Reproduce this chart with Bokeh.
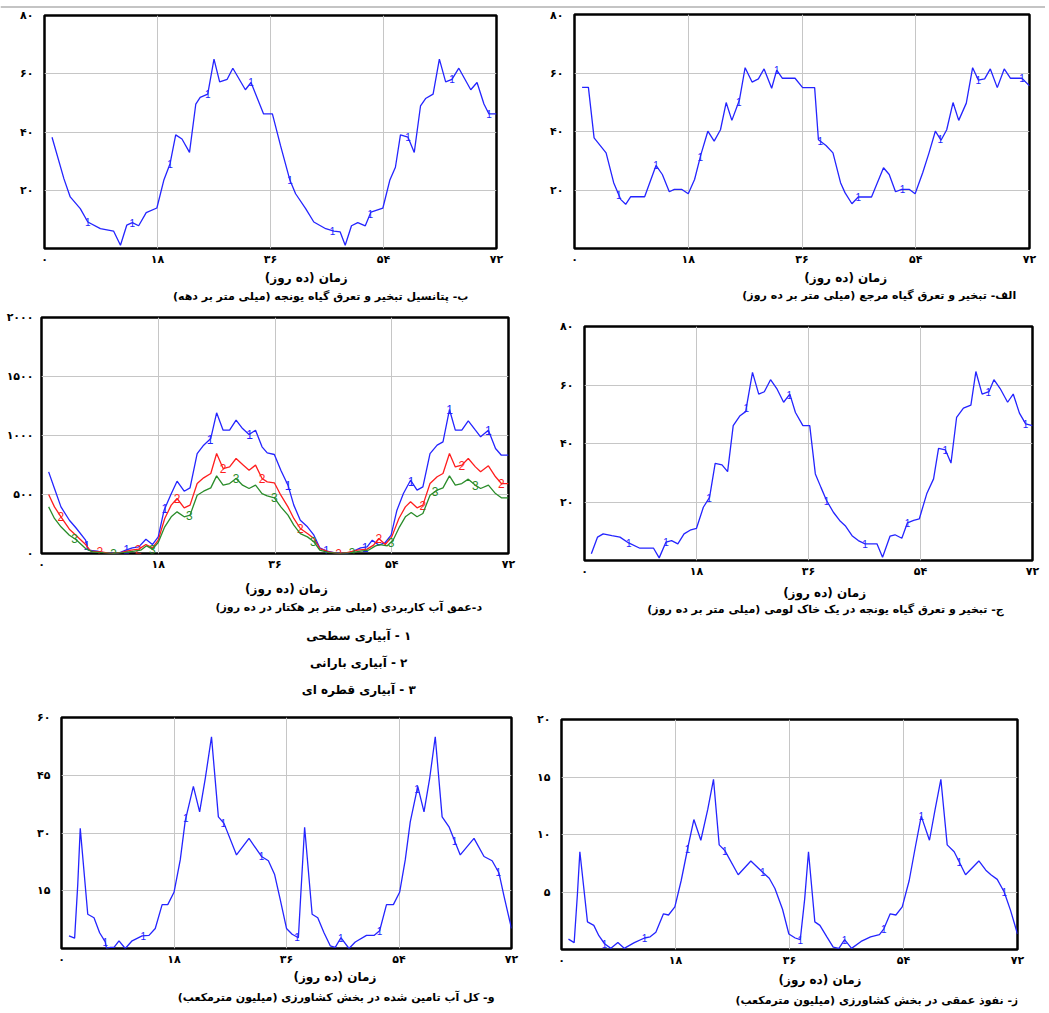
import numpy as np
from bokeh.plotting import figure
from bokeh.models import Range1d, FixedTicker
from bokeh.layouts import column, row
from bokeh.embed import file_html
from bokeh.resources import INLINE
from bokeh.core.properties import value

# ---------------- data ----------------
x_ticks = [0, 18, 36, 54, 72]
x_tick_labels = ["۰", "۱۸", "۳۶", "۵۴", "۷۲"]
axis_title = "زمان (ده روز)"

# الف - reference ET
t_a = [1.2, 2.2, 3.1, 5.0, 6.2, 7.3, 8.1, 8.9, 11.1, 12.9, 13.9, 15.0, 15.8, 17.0, 18.0, 19.0, 20.0, 21.1,
       22.1, 23.1, 24.0, 24.9, 26.1, 27.0, 28.1, 29.1, 30.0, 31.2, 32.0, 32.9, 34.9, 36.1, 38.0, 38.6, 39.8,
       40.9, 42.1, 42.8, 43.9, 44.9, 47.0, 48.9, 49.8, 50.8, 51.8, 53.0, 53.9, 55.1, 56.1, 57.1, 58.0, 58.9,
       59.9, 60.8, 62.0, 63.0, 63.9, 64.9, 65.8, 66.9, 68.0, 69.0, 70.8, 72.0]
et0_a = [55.1, 55.1, 37.8, 32.7, 22.5, 16.8, 15.1, 17.7, 17.7, 28.4, 25.3, 19.4, 20.2, 20.2, 18.7, 23.6, 32.1,
         40.1, 36.7, 40.6, 49.9, 43.8, 50.8, 61.8, 56.9, 58.0, 61.4, 54.8, 61.0, 58.2, 58.2, 55.0, 55.0, 37.2,
         35.2, 32.7, 22.5, 19.1, 15.3, 17.6, 17.6, 27.6, 25.3, 19.4, 20.2, 20.2, 18.7, 25.9, 32.7, 40.1, 37.0,
         40.6, 49.9, 43.8, 49.7, 61.8, 57.6, 58.0, 61.4, 55.0, 61.4, 58.2, 58.2, 55.6]
marks_a = [7.0, 12.9, 19.9, 26.0, 32.0, 38.9, 44.9, 51.9, 57.9, 63.9, 70.8]

# ب - potential ET of alfalfa
t_b = [1.2, 3.1, 4.1, 5.7, 6.9, 8.9, 11.0, 12.1, 13.1, 14.0, 15.0, 16.2, 17.9, 19.0, 20.0, 20.9, 21.9, 23.1,
       24.1, 24.8, 26.0, 27.0, 27.9, 29.1, 30.0, 32.0, 32.9, 34.9, 36.3, 37.6, 39.1, 40.0, 41.6, 42.9, 44.8,
       46.1, 47.1, 47.9, 48.9, 49.9, 51.1, 52.0, 53.9, 55.0, 55.9, 56.7, 57.9, 58.9, 59.9, 60.7, 61.9, 62.9,
       63.9, 64.9, 66.0, 67.9, 68.9, 70.0, 70.8, 72.0]
etp_b = [38.2, 23.9, 17.7, 13.7, 9.1, 6.8, 6.0, 1.1, 8.0, 8.9, 7.8, 12.3, 13.9, 23.4, 29.1, 39.0, 37.6, 33.0,
         49.6, 51.9, 53.0, 65.0, 57.2, 58.1, 61.9, 54.5, 57.0, 46.2, 46.2, 35.3, 23.4, 18.8, 13.7, 9.1, 6.8,
         6.0, 5.7, 1.1, 7.8, 8.9, 7.8, 12.5, 13.9, 23.4, 27.9, 39.0, 38.2, 33.0, 49.0, 51.5, 53.0, 65.0, 57.2,
         58.1, 61.9, 54.5, 57.0, 49.6, 46.2, 46.2]
marks_b = [6.9, 14.0, 20.0, 26.0, 32.9, 39.1, 45.9, 51.9, 57.9, 64.9, 70.8]

# ج - ET of alfalfa on a loam soil
t_c = [1.1, 2.1, 3.0, 4.4, 5.7, 7.1, 8.9, 11.1, 12.0, 13.1, 14.0, 15.0, 16.0, 17.1, 18.0, 19.1, 20.1, 21.0,
       22.1, 23.0, 23.9, 25.0, 25.9, 27.0, 28.0, 28.9, 29.9, 30.9, 32.0, 33.0, 33.9, 35.1, 36.2, 37.1, 38.0,
       38.9, 40.0, 41.0, 41.9, 43.0, 44.0, 45.1, 47.0, 47.9, 49.1, 49.9, 51.0, 51.9, 52.9, 53.8, 55.0, 56.1,
       56.9, 58.0, 58.9, 59.8, 60.9, 62.1, 62.9, 63.9, 65.0, 65.8, 66.8, 68.0, 68.9, 69.9, 70.9, 72.0]
eta_c = [2.3, 8.0, 9.1, 8.5, 8.0, 6.0, 4.2, 4.2, 0.9, 6.3, 6.8, 5.7, 9.1, 10.5, 11.0, 18.2, 21.6, 33.2,
         32.7, 30.4, 46.1, 49.5, 50.9, 64.3, 56.9, 57.7, 61.8, 58.8, 54.1, 56.9, 50.6, 46.1, 46.1, 29.6, 25.0,
         20.5, 16.5, 13.7, 11.9, 8.5, 6.8, 5.7, 5.7, 1.1, 8.3, 8.8, 7.6, 12.9, 13.7, 14.2, 22.8, 27.9,
         38.3, 37.8, 33.3, 48.9, 52.1, 53.1, 64.6, 56.9, 57.7, 61.8, 58.8, 54.1, 56.9, 50.4, 46.7, 46.1]
marks_c = [7.1, 13.1, 20.0, 26.0, 32.9, 38.9, 45.1, 51.9, 58.0, 64.9, 70.9]

# د - applied water depth, three irrigation methods
t_d1 = [1.1, 2.0, 3.0, 4.3, 5.3, 6.8, 7.2, 8.6, 9.6, 10.7, 11.7, 13.0, 14.0, 15.0, 16.1, 17.1, 18.0, 18.9,
        19.9, 20.9, 22.0, 22.9, 24.0, 25.0, 26.1, 27.0, 28.0, 29.0, 30.0, 31.0, 32.0, 33.0, 34.0, 34.8, 35.9,
        36.9, 38.0, 38.9, 39.9, 41.0, 42.0, 42.9, 44.0, 45.1, 46.1, 47.1, 48.1, 49.2, 50.2, 51.0, 52.0, 53.0,
        53.9, 54.8, 55.8, 56.9, 57.9, 58.8, 59.9, 61.0, 61.9, 62.9, 63.8, 64.8, 65.8, 66.9, 67.7, 68.9, 70.0,
        70.9, 72.0]
d1 = [692, 551, 395, 282, 218, 113, 28, 20, 8, 8, 0, 28, 48, 56, 121, 76, 141, 367, 494, 613, 528, 556, 847,
      918, 975, 1192, 1045, 1045, 1130, 1059, 1008, 1045, 904, 853, 839, 706, 579, 410, 282, 226, 155, 48, 20,
      8, 8, 0, 20, 48, 56, 113, 71, 93, 155, 367, 508, 621, 537, 565, 847, 918, 946, 1220, 1045, 1045, 1124,
      1045, 989, 1045, 890, 833, 833]
t_d2 = [1.1, 2.0, 3.0, 4.3, 5.3, 6.8, 7.6, 9.1, 10.7, 12.2, 13.8, 15.0, 16.1, 17.1, 18.0, 19.0, 20.0, 20.9,
        22.0, 22.9, 24.0, 25.0, 26.1, 27.0, 28.0, 29.0, 30.0, 31.0, 32.0, 33.0, 34.0, 34.8, 35.9, 36.9, 38.0,
        38.9, 39.9, 41.0, 42.0, 42.9, 44.3, 45.6, 47.1, 48.7, 50.2, 51.2, 52.0, 53.0, 54.0, 55.1, 56.1, 56.9,
        57.9, 58.8, 59.9, 61.0, 61.9, 62.9, 63.8, 64.8, 65.8, 66.9, 67.7, 68.9, 70.0, 70.9, 72.0]
d2 = [500, 395, 311, 206, 155, 76, 20, 14, 0, 8, 28, 37, 76, 48, 113, 297, 410, 466, 387, 410, 593, 641, 678,
      847, 720, 734, 805, 754, 706, 749, 636, 607, 599, 494, 395, 297, 212, 169, 127, 42, 14, 0, 8, 28, 37,
      71, 127, 76, 141, 297, 395, 438, 387, 410, 593, 650, 678, 847, 734, 749, 805, 734, 692, 743, 650, 593,
      593]
t_d3 = [1.1, 2.0, 3.0, 4.3, 5.3, 6.8, 7.9, 9.6, 11.2, 12.7, 14.3, 15.3, 16.2, 17.1, 18.0, 19.0, 20.0, 20.9,
        22.0, 22.9, 24.0, 25.0, 26.1, 27.0, 28.0, 29.0, 30.0, 31.0, 32.0, 33.0, 34.0, 34.8, 35.9, 36.9, 38.0,
        38.9, 39.9, 41.0, 42.0, 42.9, 44.3, 46.1, 47.6, 49.2, 50.4, 51.5, 52.2, 53.3, 54.2, 55.2, 56.1, 57.0,
        57.9, 58.8, 59.9, 61.0, 61.9, 62.9, 63.8, 64.8, 65.8, 66.9, 67.7, 68.9, 70.0, 70.9, 72.0]
d3 = [395, 297, 226, 155, 119, 42, 14, 6, 0, 8, 20, 28, 65, 37, 93, 226, 311, 353, 311, 325, 494, 528, 556,
      658, 579, 593, 636, 579, 551, 579, 508, 489, 472, 395, 325, 240, 169, 141, 99, 28, 8, 0, 6, 20, 28, 65,
      76, 65, 113, 226, 311, 347, 311, 339, 494, 537, 556, 658, 579, 593, 630, 579, 551, 579, 508, 472, 472]
marks_d1 = [7.0, 13.1, 19.0, 26.0, 32.1, 38.0, 43.9, 49.9, 57.0, 62.9, 68.9]
marks_d2 = [3.0, 9.0, 14.9, 20.9, 28.0, 34.0, 39.9, 45.8, 52.0, 58.8, 64.8, 70.9]
marks_d3 = [5.1, 11.1, 17.1, 22.8, 30.0, 35.9, 41.9, 47.9, 53.9, 60.7, 66.9]
legend_items = ["۱ - آبیاری سطحی", "۲ - آبیاری بارانی", "۳ - آبیاری قطره ای"]

# و - total water supplied to agriculture
t_e = [1.2, 2.1, 2.6, 3.0, 4.2, 5.2, 6.1, 7.0, 7.2, 7.8, 8.4, 9.2, 10.2, 11.3, 12.9, 14.0, 15.0, 16.1, 17.0,
       18.0, 19.0, 19.8, 21.1, 22.1, 23.0, 24.0, 25.1, 26.0, 28.0, 30.0, 32.0, 33.1, 34.1, 35.0, 36.0, 36.9,
       37.9, 38.3, 38.9, 40.1, 41.0, 42.0, 43.0, 43.8, 44.7, 46.0, 47.0, 48.8, 50.0, 50.9, 52.0, 53.1, 54.1,
       55.0, 55.8, 57.0, 58.0, 58.9, 59.8, 60.9, 62.0, 63.8, 66.0, 67.6, 68.9, 70.0, 70.8, 72.0]
supply_e = [3.3, 2.7, 16.6, 31.2, 8.9, 8.0, 4.1, 1.7, 0.0, 0.3, 0.3, 2.0, 0.0, 2.0, 3.3, 3.4, 5.2, 11.4, 11.4,
            14.6, 23.0, 33.2, 42.1, 35.5, 44.1, 55.0, 34.2, 32.5, 24.3, 28.6, 23.9, 22.8, 19.2, 12.7, 5.2, 3.7,
            2.8, 14.4, 31.5, 8.9, 8.0, 4.1, 0.7, 0.3, 2.8, 0.0, 1.7, 3.4, 3.4, 4.6, 11.4, 11.4, 14.6, 23.0,
            32.9, 42.1, 35.5, 44.1, 55.0, 34.2, 31.6, 24.3, 28.6, 23.9, 22.8, 19.6, 13.6, 5.2]
marks_e = [7.0, 13.1, 19.9, 25.9, 32.0, 37.7, 44.7, 50.9, 56.9, 62.9, 69.9]

# ز - deep percolation in agriculture
t_f = [1.1, 2.0, 2.5, 2.9, 4.1, 5.1, 5.9, 6.8, 7.8, 8.9, 9.9, 11.5, 13.1, 14.0, 14.9, 16.1, 16.9, 17.9, 18.9,
       20.0, 20.9, 22.0, 23.1, 24.0, 24.9, 25.8, 27.9, 29.9, 31.8, 32.8, 33.7, 34.9, 35.9, 36.9, 37.7, 38.4,
       39.0, 40.0, 40.8, 41.9, 42.9, 43.8, 44.7, 45.8, 47.3, 48.8, 50.2, 50.9, 51.9, 52.8, 53.8, 54.9, 55.9,
       56.8, 58.1, 59.0, 59.9, 60.9, 62.0, 63.8, 65.9, 67.0, 67.8, 68.8, 69.9, 70.9, 72.0]
perc_f = [0.9, 0.6, 4.7, 8.5, 2.4, 2.1, 1.2, 0.5, 0.1, 0.6, 0.1, 0.6, 1.0, 1.1, 1.5, 3.1, 3.0, 3.7, 6.0, 9.0,
          11.3, 9.5, 12.2, 14.8, 9.1, 8.6, 6.5, 7.7, 6.7, 6.2, 5.3, 3.5, 1.35, 1.0, 0.86, 4.4, 8.5, 2.4, 2.1,
          1.1, 0.2, 0.1, 0.86, 0.1, 0.7, 1.1, 1.3, 1.8, 3.1, 3.0, 3.7, 6.0, 9.0, 11.6, 9.5, 12.2, 14.8, 9.1,
          8.5, 6.5, 7.7, 6.9, 6.5, 6.1, 5.0, 3.4, 1.35]
marks_f = [6.8, 13.1, 19.9, 25.8, 31.8, 37.7, 44.7, 50.9, 56.8, 62.8, 69.9]

captions = {
    "a": "الف- تبخیر و تعرق گیاه مرجع (میلی متر بر ده روز)",
    "b": "ب- پتانسیل تبخیر و تعرق گیاه یونجه (میلی متر بر دهه)",
    "c": "ج- تبخیر و تعرق گیاه یونجه در یک خاک لومی (میلی متر بر ده روز)",
    "d": "د-عمق آب کاربردی (میلی متر بر هکتار در ده روز)",
    "e": "و- کل آب تامین شده در بخش کشاورزی (میلیون مترمکعب)",
    "f": "ز- نفوذ عمقی در بخش کشاورزی (میلیون مترمکعب)",
}

# ---------------- styling ----------------
FONT = "DejaVu Sans"
BLUE = "#2424ff"
RED = "#ff1e1e"
GREEN = "#2a8c2a"
GRID = "#c6c6c6"
LEFT_W, RIGHT_W = 530, 515


def rtl(s):
    return "\u200f" + s + "\u200f"


def panel(width, height, left, right, top, bottom, ymax, yticks, ylabels):
    p = figure(width=width, height=height, x_range=Range1d(0, 72), y_range=Range1d(0, ymax),
               output_backend="svg", toolbar_location=None,
               min_border_left=left, min_border_right=right,
               min_border_top=top, min_border_bottom=bottom)
    p.outline_line_color = "black"
    p.outline_line_width = 2.5
    p.xaxis.ticker = FixedTicker(ticks=x_ticks)
    p.xaxis.major_label_overrides = {t: l for t, l in zip(x_ticks, x_tick_labels)}
    p.yaxis.ticker = FixedTicker(ticks=yticks)
    p.yaxis.major_label_overrides = {t: l for t, l in zip(yticks, ylabels)}
    for ax in (p.xaxis, p.yaxis):
        ax.axis_line_color = None
        ax.major_tick_line_color = None
        ax.minor_tick_line_color = None
        ax.major_tick_out = 0
        ax.major_tick_in = 0
        ax.minor_tick_out = 0
        ax.major_label_text_font = FONT
        ax.major_label_text_font_style = "bold"
        ax.major_label_text_font_size = "11px"
        ax.major_label_text_color = "black"
    p.xaxis.major_label_standoff = 4
    p.yaxis.major_label_standoff = 11
    p.xgrid.ticker = FixedTicker(ticks=x_ticks[1:-1])
    p.ygrid.ticker = FixedTicker(ticks=yticks[1:-1])
    p.xgrid.grid_line_color = GRID
    p.ygrid.grid_line_color = GRID
    return p


def series(p, t, v, marks, color, label, size="10px"):
    p.line(t, v, line_color=color, line_width=1.3)
    ys = np.interp(marks, t, v)
    p.text(x=marks, y=ys, text=[label] * len(marks), text_color=color,
           text_font=value("Liberation Sans"), text_font_size=size,
           text_align="center", text_baseline="middle")


def caption_box(width, height):
    c = figure(width=width, height=height, x_range=Range1d(0, width), y_range=Range1d(height, 0),
               output_backend="svg", toolbar_location=None, min_border=0,
               x_axis_location=None, y_axis_location=None)
    c.grid.visible = False
    c.outline_line_color = None
    return c


def put(c, x, y, text, align="center", size="11px"):
    c.text(x=[x], y=[y], text=[rtl(text)], text_align=align, text_baseline="middle",
           text_font=value(FONT), text_font_style="bold", text_font_size=size, text_color="black")


# strip with the double rule at the top of the page
s = caption_box(LEFT_W + RIGHT_W, 8)
s.line([0, LEFT_W + RIGHT_W], [2.5, 2.5], line_color="#8a8a8a", line_width=1.2)
s.line([0, LEFT_W + RIGHT_W], [5.6, 5.6], line_color="black", line_width=2.4)

y80 = [0, 20, 40, 60, 80]
y80_l = ["", "۲۰", "۴۰", "۶۰", "۸۰"]

# ---------- row 1 (page y 8..308)
pb = panel(LEFT_W, 260, 44, 34, 7, 18, 80, y80, y80_l)
series(pb, t_b, etp_b, marks_b, BLUE, "1")
cb = caption_box(LEFT_W, 40)
put(cb, 307, 9, axis_title, size="12px")
put(cb, 497, 28, captions["b"], align="right")

pa = panel(RIGHT_W, 260, 44, 16, 6, 19, 80, y80, y80_l)
series(pa, t_a, et0_a, marks_a, BLUE, "1")
ca = caption_box(RIGHT_W, 40)
put(ca, 307, 9, axis_title, size="12px")
put(ca, 500, 27, captions["a"], align="right")

# ---------- row 2 (page y 308..705)
pd = panel(LEFT_W, 265, 41, 22, 9, 20, 2000, [0, 500, 1000, 1500, 2000],
           ["۰", "۵۰۰", "۱۰۰۰", "۱۵۰۰", "۲۰۰۰"])
pd.yaxis.major_label_standoff = 8
series(pd, t_d1, d1, marks_d1, BLUE, "1", "12px")
series(pd, t_d2, d2, marks_d2, RED, "2", "12px")
series(pd, t_d3, d3, marks_d3, GREEN, "3", "12px")
cd = caption_box(LEFT_W, 132)
put(cd, 278, 15, axis_title, size="12px")
put(cd, 500, 34, captions["d"], align="right")
for i, item in enumerate(legend_items):
    put(cd, 360, 62 + 27 * i, item, size="12px")

pc = panel(RIGHT_W, 272, 54, 13, 18, 20, 80, y80, y80_l)
series(pc, t_c, eta_c, marks_c, BLUE, "1")
cc = caption_box(RIGHT_W, 125)
put(cc, 276, 12, axis_title, size="12px")
put(cc, 482, 29, captions["c"], align="right")

# ---------- row 3 (page y 705..1010)
pe = panel(LEFT_W, 263, 61, 19, 12, 19, 60, [0, 15, 30, 45, 60], ["", "۱۵", "۳۰", "۴۵", "۶۰"])
series(pe, t_e, supply_e, marks_e, BLUE, "1")
ce = caption_box(LEFT_W, 42)
put(ce, 322, 8, axis_title, size="12px")
put(ce, 510, 29, captions["e"], align="right")

pf = panel(RIGHT_W, 264, 31, 28, 14, 18, 20, [0, 5, 10, 15, 20], ["", "۵", "۱۰", "۱۵", "۲۰"])
series(pf, t_f, perc_f, marks_f, BLUE, "1")
cf = caption_box(RIGHT_W, 41)
put(cf, 292, 10, axis_title, size="12px")
put(cf, 516, 31, captions["f"], align="right")

layout = column(
    s,
    row(column(pb, cb), column(pa, ca)),
    row(column(pd, cd), column(pc, cc)),
    row(column(pe, ce), column(pf, cf)),
)
open("out.html", "w").write(file_html(layout, INLINE))
